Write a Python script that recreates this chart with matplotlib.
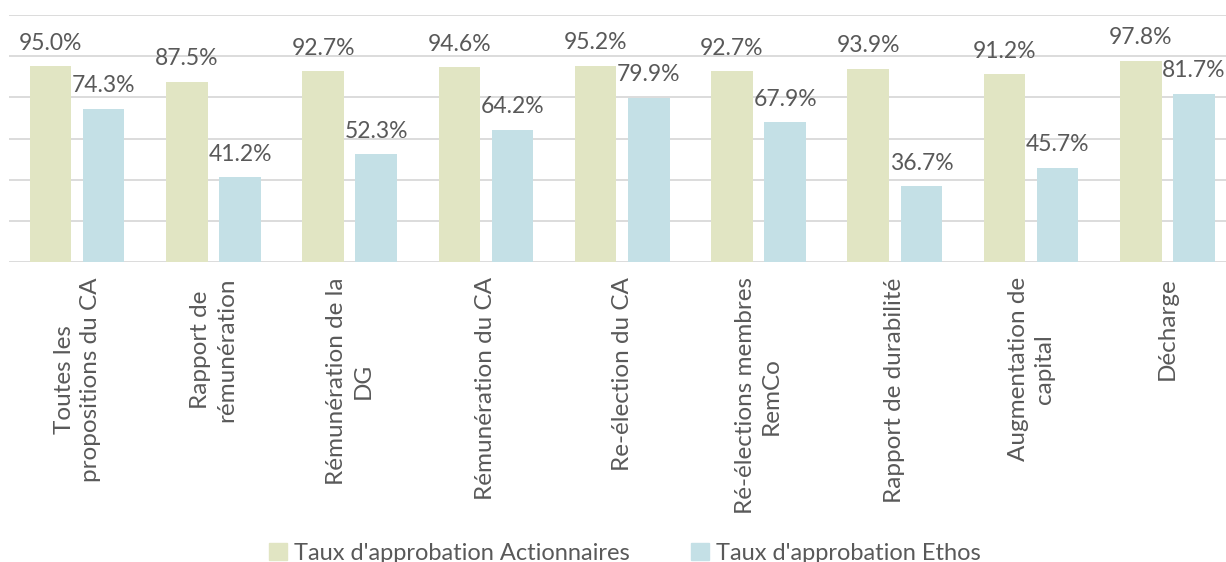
import matplotlib.pyplot as plt
import numpy as np
from matplotlib.patches import Patch

plt.rcParams['font.family'] = ['Lato', 'DejaVu Sans']

categories = ["Toutes les\npropositions du CA", "Rapport de\nrémunération", "Rémunération de la\nDG",
              "Rémunération du CA", "Re-élection du CA", "Ré-élections membres\nRemCo",
              "Rapport de durabilité", "Augmentation de\ncapital", "Décharge"]
actionnaires = [95.0, 87.5, 92.7, 94.6, 95.2, 92.7, 93.9, 91.2, 97.8]
ethos = [74.3, 41.2, 52.3, 64.2, 79.9, 67.9, 36.7, 45.7, 81.7]
series_names = ["Taux d'approbation Actionnaires", "Taux d'approbation Ethos"]

green = "#E1E5C3"
blue = "#C4E0E6"
txt = "#595959"

fig = plt.figure(figsize=(12.26, 5.62), dpi=100)
ax = fig.add_axes([9/1226, (562-262)/562, 1217/1226, 247/562])

x = np.arange(len(categories))
w = 0.305
off = 0.195
b1 = ax.bar(x - off, actionnaires, w, color=green, zorder=2)
b2 = ax.bar(x + off, ethos, w, color=blue, zorder=2)

# value labels above each bar
for bars, vals in ((b1, actionnaires), (b2, ethos)):
    for rect, v in zip(bars, vals):
        ax.annotate("{:.1f}%".format(v), (rect.get_x() + rect.get_width()/2, v),
                    xytext=(0, 12), textcoords="offset points",
                    ha="center", va="baseline", fontsize=16.5, color=txt)

ax.set_xlim(-0.5, 8.43)
ax.set_ylim(0, 120)
ax.set_yticks(np.arange(0, 121, 20))
ax.yaxis.grid(True, color="#D9D9D9", linewidth=1.3, zorder=0)
ax.tick_params(axis="y", left=False, labelleft=False)
ax.set_xticks(x)
ax.set_xticklabels(categories, rotation=90, ha="center", va="top", fontsize=17.5,
                   color=txt, multialignment="center", linespacing=1.3)
ax.tick_params(axis="x", length=0, pad=11)
for s in ax.spines.values():
    s.set_visible(False)

handles = [Patch(color=green), Patch(color=blue)]
leg = fig.legend(handles, series_names, loc="center", bbox_to_anchor=(625/1226, 1 - 553/562),
                 ncol=2, frameon=False, handlelength=0.75, handleheight=0.75,
                 handletextpad=0.3, columnspacing=2.6, labelcolor=txt,
                 prop={"size": 17})

fig.savefig("out.png", dpi=100)
